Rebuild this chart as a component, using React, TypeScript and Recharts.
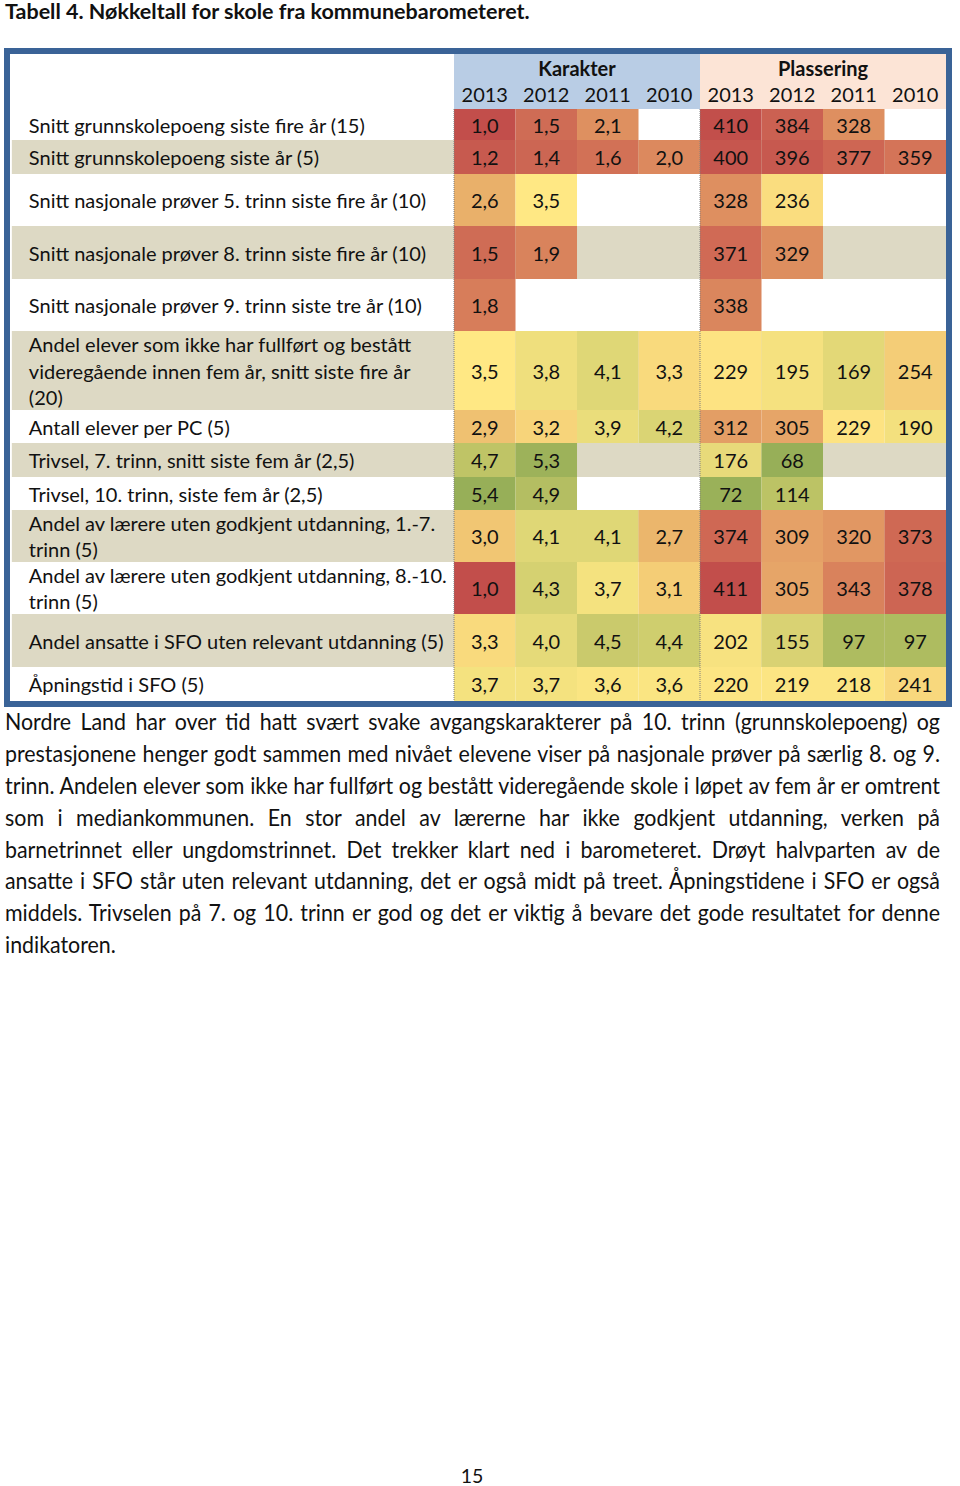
import { ScatterChart, Scatter, XAxis, YAxis, ReferenceArea, ReferenceLine } from 'recharts';

const rowLabels: string[][] = [
  ['Snitt grunnskolepoeng siste fire år (15)'],
  ['Snitt grunnskolepoeng siste år (5)'],
  ['Snitt nasjonale prøver 5. trinn siste fire år (10)'],
  ['Snitt nasjonale prøver 8. trinn siste fire år (10)'],
  ['Snitt nasjonale prøver 9. trinn siste tre år (10)'],
  ['Andel elever som ikke har fullført og bestått', 'videregående innen fem år, snitt siste fire år', '(20)'],
  ['Antall elever per PC (5)'],
  ['Trivsel, 7. trinn, snitt siste fem år (2,5)'],
  ['Trivsel, 10. trinn, siste fem år (2,5)'],
  ['Andel av lærere uten godkjent utdanning, 1.-7.', 'trinn (5)'],
  ['Andel av lærere uten godkjent utdanning, 8.-10.', 'trinn (5)'],
  ['Andel ansatte i SFO uten relevant utdanning (5)'],
  ['Åpningstid i SFO (5)'],
];

const years = ['2013', '2012', '2011', '2010'];
const groups = ['Karakter', 'Plassering'];

const karakter2013 = [1.0, 1.2, 2.6, 1.5, 1.8, 3.5, 2.9, 4.7, 5.4, 3.0, 1.0, 3.3, 3.7];
const karakter2012 = [1.5, 1.4, 3.5, 1.9, null, 3.8, 3.2, 5.3, 4.9, 4.1, 4.3, 4.0, 3.7];
const karakter2011 = [2.1, 1.6, null, null, null, 4.1, 3.9, null, null, 4.1, 3.7, 4.5, 3.6];
const karakter2010 = [null, 2.0, null, null, null, 3.3, 4.2, null, null, 2.7, 3.1, 4.4, 3.6];

const plassering2013 = [410, 400, 328, 371, 338, 229, 312, 176, 72, 374, 411, 202, 220];
const plassering2012 = [384, 396, 236, 329, null, 195, 305, 68, 114, 309, 305, 155, 219];
const plassering2011 = [328, 377, null, null, null, 169, 229, null, null, 320, 343, 97, 218];
const plassering2010 = [null, 359, null, null, null, 254, 190, null, null, 373, 378, 97, 241];

const paragraph = [
  'Nordre Land har over tid hatt svært svake avgangskarakterer på 10. trinn (grunnskolepoeng) og',
  'prestasjonene henger godt sammen med nivået elevene viser på nasjonale prøver på særlig 8. og 9.',
  'trinn. Andelen elever som ikke har fullført og bestått videregående skole i løpet av fem år er omtrent',
  'som i mediankommunen. En stor andel av lærerne har ikke godkjent utdanning, verken på',
  'barnetrinnet eller ungdomstrinnet. Det trekker klart ned i barometeret. Drøyt halvparten av de',
  'ansatte i SFO står uten relevant utdanning, det er også midt på treet. Åpningstidene i SFO er også',
  'middels. Trivselen på 7. og 10. trinn er god og det er viktig å bevare det gode resultatet for denne',
  'indikatoren.',
];

// --- layout ---
const FONT = 'Lato, "Open Sans", sans-serif';
const FS = 20;
const W = 936;
const HEADER_H = 55;
const ROW_H = [31, 34, 52, 53, 52, 79, 33, 34, 33, 52, 52, 53, 34];
const H = HEADER_H + ROW_H.reduce((a, b) => a + b, 0);
const X_MIN = -7.22;
const LABEL_X0 = -7.19;
const BEIGE = '#DDD9C4';

// colour scales (red = weak, yellow = middle, green = strong)
type Stop = [number, string];
const gradeStops: Stop[] = [
  [1.0, '#C24E4B'], [2.0, '#DC895E'], [2.6, '#E9B06A'], [3.0, '#F1C673'],
  [3.5, '#FFE884'], [4.2, '#DAD474'], [4.7, '#BFC466'], [5.4, '#97AF58'],
];
const rankStops: Stop[] = [
  [68, '#97AF58'], [114, '#BCC365'], [165, '#E0D676'], [190, '#F3E07E'], [225, '#FEE684'],
  [254, '#F4CD77'], [305, '#E6A568'], [330, '#DD8D5F'], [370, '#D06B55'], [411, '#C24E4B'],
];

function hex(c: string) {
  return [1, 3, 5].map((i) => parseInt(c.slice(i, i + 2), 16));
}
function colorAt(stops: Stop[], v: number) {
  if (v <= stops[0][0]) return stops[0][1];
  for (let i = 1; i < stops.length; i++) {
    const [v1, c1] = stops[i];
    if (v <= v1) {
      const [v0, c0] = stops[i - 1];
      const t = (v - v0) / (v1 - v0);
      const a = hex(c0);
      const b = hex(c1);
      return 'rgb(' + a.map((x, k) => Math.round(x + (b[k] - x) * t)).join(',') + ')';
    }
  }
  return stops[stops.length - 1][1];
}

const columns = [karakter2013, karakter2012, karakter2011, karakter2010,
  plassering2013, plassering2012, plassering2011, plassering2010];

const rowTops = ROW_H.map((_, i) => HEADER_H + ROW_H.slice(0, i).reduce((a, b) => a + b, 0));

const cells = columns.flatMap((col, c) =>
  col.flatMap((v, r) => {
    if (v == null) return [];
    const grade = c < 4;
    return [{
      x: c + 0.5,
      y: rowTops[r] + ROW_H[r] / 2,
      c,
      r,
      text: grade ? v.toFixed(1).replace('.', ',') : String(v),
      fill: grade ? colorAt(gradeStops, v) : colorAt(rankStops, v),
    }];
  }),
);

function RowLabel({ viewBox, lines }: any) {
  const { x, y, height } = viewBox;
  const mid = y + height / 2;
  return (
    <g>
      {lines.map((t: string, i: number) => (
        <text key={i} x={x + 17} y={mid + (i - (lines.length - 1) / 2) * 26.5} dominantBaseline="central"
          fontFamily={FONT} fontSize={FS} fill="#111">{t}</text>
      ))}
    </g>
  );
}

function GroupHeader({ viewBox, title }: any) {
  const { x, y, width } = viewBox;
  return (
    <g fontFamily={FONT} fontSize={FS} fill="#111" textAnchor="middle">
      <text x={x + width / 2} y={y + 14} dominantBaseline="central" fontWeight="bold">{title}</text>
      {years.map((yr, i) => (
        <text key={yr} x={x + (i + 0.5) * width / 4} y={y + 40} dominantBaseline="central">{yr}</text>
      ))}
    </g>
  );
}

function ValueText(props: any) {
  const { cx, cy, payload } = props;
  return (
    <text x={cx} y={cy} textAnchor="middle" dominantBaseline="central" fontFamily={FONT} fontSize={FS} fill="#111">
      {payload.text}
    </text>
  );
}

function Table() {
  return (
    <ScatterChart width={W} height={H} margin={{ top: 0, right: 0, bottom: 0, left: 0 }}>
      <XAxis type="number" dataKey="x" domain={[X_MIN, 8]} hide allowDataOverflow />
      <YAxis type="number" dataKey="y" domain={[0, H]} reversed hide allowDataOverflow />
      {groups.map((g, i) => (
        <ReferenceArea key={g} x1={i * 4} x2={i * 4 + 4} y1={0} y2={HEADER_H} ifOverflow="visible"
          fill={i === 0 ? '#B9CDE5' : '#FCE4D6'} fillOpacity={1} stroke="none"
          label={(p: any) => <GroupHeader viewBox={p.viewBox} title={g} />} />
      ))}
      {rowLabels.map((lines, r) => (
        <ReferenceArea key={'row' + r} x1={LABEL_X0} x2={8} y1={rowTops[r]} y2={rowTops[r] + ROW_H[r]}
          ifOverflow="visible" fill={r % 2 === 1 ? BEIGE : '#FFFFFF'} fillOpacity={1} stroke="none" />
      ))}
      {rowLabels.map((lines, r) => (
        <ReferenceArea key={'lab' + r} x1={LABEL_X0} x2={0} y1={rowTops[r]} y2={rowTops[r] + ROW_H[r]}
          ifOverflow="visible" fill="none" stroke="none"
          label={(p: any) => <RowLabel viewBox={p.viewBox} lines={lines} />} />
      ))}
      {cells.map((d) => (
        <ReferenceArea key={d.c + '-' + d.r} x1={d.c} x2={d.c + 1} y1={rowTops[d.r]} y2={rowTops[d.r] + ROW_H[d.r]}
          ifOverflow="visible" fill={d.fill} fillOpacity={1} stroke="none" />
      ))}
      {[0, 4].map((x) => (
        <ReferenceLine key={x} segment={[{ x, y: HEADER_H }, { x, y: H }]} ifOverflow="visible"
          stroke="#7F7F7F" strokeWidth={1} strokeDasharray="1 1" />
      ))}
      <Scatter data={cells} shape={ValueText} isAnimationActive={false} />
    </ScatterChart>
  );
}

const PARA_SCALE = 0.95;

export default function App() {
  return (
    <div style={{ position: 'absolute', left: 0, top: 0, width: 960, height: 1486, background: '#fff', fontFamily: FONT, color: '#111' }}>
      <div style={{ position: 'absolute', left: 5, top: 0, fontWeight: 'bold', fontSize: 21.5, lineHeight: '22px', whiteSpace: 'nowrap' }}>
        Tabell 4. Nøkkeltall for skole fra kommunebarometeret.
      </div>
      <div style={{ position: 'absolute', left: 4, top: 48, border: '6px solid #3A6397', width: W, height: H }}>
        <Table />
      </div>
      <div style={{ position: 'absolute', left: 5, top: 706, width: 935 / PARA_SCALE, transform: `scaleX(${PARA_SCALE})`, transformOrigin: 'left' }}>
        {paragraph.map((line, i) => (
          <div key={i} style={{ fontSize: 22.5, lineHeight: '31.9px', height: 31.9, whiteSpace: 'nowrap', textAlign: i < paragraph.length - 1 ? 'justify' : 'left', textAlignLast: i < paragraph.length - 1 ? 'justify' : 'left' }}>
            {line}
          </div>
        ))}
      </div>
      <div style={{ position: 'absolute', left: 0, width: 944, top: 1464, textAlign: 'center', fontSize: 19.5, lineHeight: '24px' }}>15</div>
    </div>
  );
}
